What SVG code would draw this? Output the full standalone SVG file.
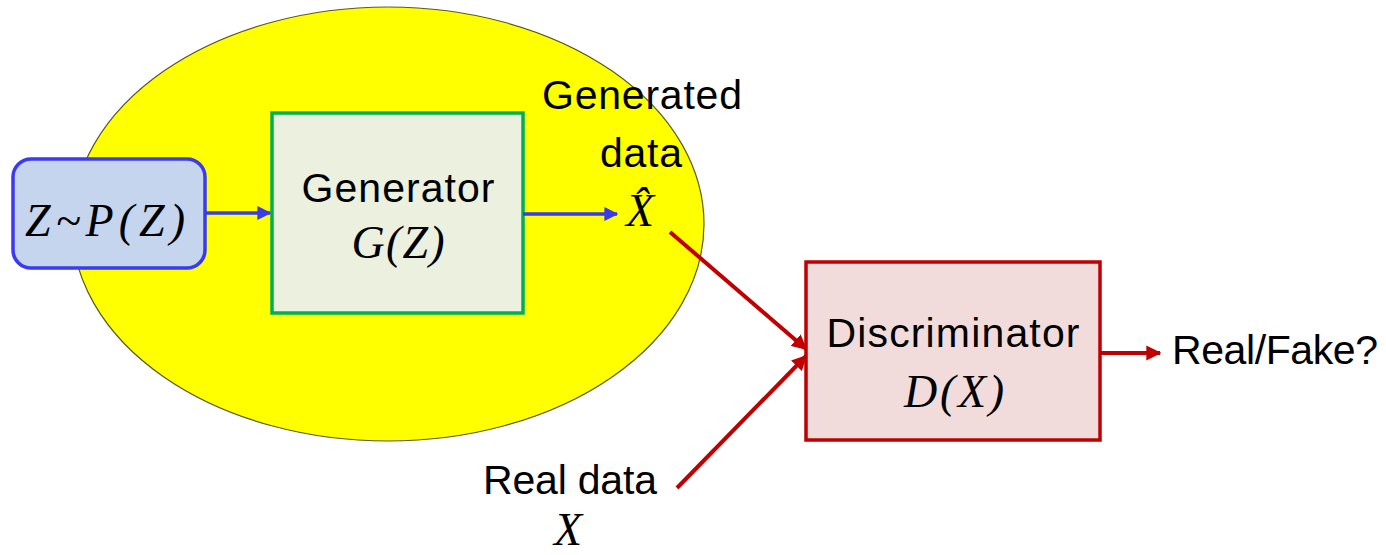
<svg xmlns="http://www.w3.org/2000/svg" width="1386" height="555" viewBox="0 0 1386 555">
  <style>
    .lbl { font-family: "Liberation Sans", Arial, sans-serif; font-size: 41px; fill: #000; text-anchor: middle; }
    .math { font-family: "Liberation Serif", "Times New Roman", serif; font-style: italic; font-size: 46px; fill: #000; text-anchor: middle; }
    .blue { stroke: #3a3af0; stroke-width: 3.5; fill: none; }
    .red { stroke: #c00000; stroke-width: 4; fill: none; }
  </style>
  <defs>
    <marker id="ahBlue" viewBox="0 0 10 10" refX="9" refY="5" markerWidth="4" markerHeight="4" orient="auto" markerUnits="strokeWidth">
      <path d="M0,0 L10,5 L0,10 Z" fill="#3a3af0"/>
    </marker>
    <marker id="ahRed" viewBox="0 0 10 10" refX="9" refY="5" markerWidth="3.8" markerHeight="3.8" orient="auto" markerUnits="strokeWidth">
      <path d="M0,0 L10,5 L0,10 Z" fill="#c00000"/>
    </marker>
  </defs>
  <rect width="1386" height="555" fill="#ffffff"/>

  <!-- generator region -->
  <g id="generator-region">
    <ellipse cx="388" cy="224" rx="316" ry="217" fill="#ffff00" stroke="#5a5a20" stroke-width="1.2"/>
  </g>

  <!-- noise source -->
  <g id="noise">
    <rect x="13" y="159" width="192" height="109" rx="18" ry="18" fill="#c6d5ee" stroke="#3a3af0" stroke-width="3.5"/>
    <text class="math" x="105" y="236" font-size="48" textLength="160">Z~P(Z)</text>
  </g>

  <!-- generator -->
  <g id="generator">
    <rect x="272" y="113" width="251" height="200" fill="#ebf0df" stroke="#00b050" stroke-width="3.5"/>
    <text class="lbl" x="398" y="202" textLength="193">Generator</text>
    <text class="math" x="398" y="258" font-size="44" textLength="93">G(Z)</text>
  </g>

  <!-- generated sample label -->
  <g id="generated-data">
    <text class="lbl" x="642" y="109" textLength="200">Generated</text>
    <text class="lbl" x="641" y="167" textLength="82">data</text>
    <text class="math" x="640" y="226">X̂</text>
  </g>

  <!-- real sample label -->
  <g id="real-data">
    <text class="lbl" x="570" y="494" textLength="174">Real data</text>
    <text class="math" x="568" y="545">X</text>
  </g>

  <!-- discriminator -->
  <g id="discriminator">
    <rect x="806" y="262" width="294" height="178" fill="#f2dcdb" stroke="#c00000" stroke-width="3.5"/>
    <text class="lbl" x="953" y="347" textLength="253">Discriminator</text>
    <text class="math" x="954" y="407" textLength="100">D(X)</text>
  </g>

  <!-- output label -->
  <g id="output">
    <text class="lbl" x="1275" y="364" textLength="206">Real/Fake?</text>
  </g>

  <!-- connectors -->
  <g id="connectors">
    <line class="blue" x1="205" y1="213" x2="270" y2="213" marker-end="url(#ahBlue)"/>
    <line class="blue" x1="523" y1="214" x2="617" y2="214" marker-end="url(#ahBlue)"/>
    <line class="red" x1="670" y1="232" x2="806" y2="349" marker-end="url(#ahRed)"/>
    <line class="red" x1="677" y1="488" x2="806" y2="356" marker-end="url(#ahRed)"/>
    <line class="red" x1="1100" y1="353" x2="1160" y2="353" marker-end="url(#ahRed)"/>
  </g>
</svg>
